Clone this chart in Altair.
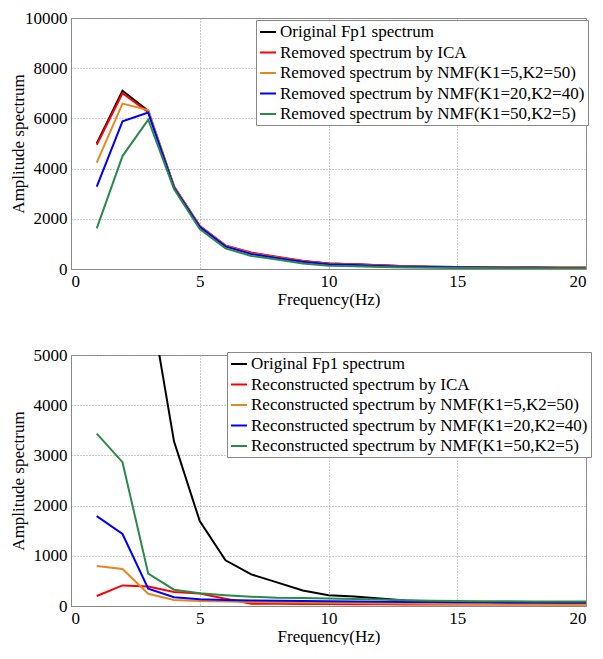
import altair as alt
import pandas as pd

freq = list(range(1, 21))

top_labels = [
    "Original Fp1 spectrum",
    "Removed spectrum by ICA",
    "Removed spectrum by NMF(K1=5,K2=50)",
    "Removed spectrum by NMF(K1=20,K2=40)",
    "Removed spectrum by NMF(K1=50,K2=5)",
]
bottom_labels = [
    "Original Fp1 spectrum",
    "Reconstructed spectrum by ICA",
    "Reconstructed spectrum by NMF(K1=5,K2=50)",
    "Reconstructed spectrum by NMF(K1=20,K2=40)",
    "Reconstructed spectrum by NMF(K1=50,K2=5)",
]

original = [5000, 7100, 6300, 3280, 1690, 910, 630, 470, 310, 215, 190, 150, 110, 90, 75, 65, 60, 55, 50, 50]

removed_ica = [4950, 7000, 6250, 3300, 1720, 940, 660, 490, 325, 220, 190, 150, 110, 90, 75, 65, 60, 55, 55, 60]
removed_nmf_5_50 = [4240, 6590, 6330, 3300, 1700, 920, 620, 460, 300, 200, 170, 130, 100, 80, 70, 60, 55, 50, 50, 45]
removed_nmf_20_40 = [3280, 5880, 6230, 3250, 1680, 900, 600, 440, 290, 190, 160, 120, 90, 75, 65, 55, 50, 45, 40, 40]
removed_nmf_50_5 = [1620, 4500, 5950, 3190, 1590, 820, 520, 380, 220, 130, 110, 80, 60, 50, 40, 35, 30, 30, 25, 25]

recon_ica = [200, 410, 390, 280, 250, 145, 45, 45, 40, 40, 35, 35, 30, 30, 30, 30, 30, 30, 30, 30]
recon_nmf_5_50 = [795, 737, 243, 120, 100, 90, 80, 75, 70, 65, 60, 55, 50, 45, 40, 40, 35, 35, 30, 30]
recon_nmf_20_40 = [1790, 1435, 345, 173, 135, 120, 110, 105, 100, 95, 90, 85, 80, 80, 75, 75, 70, 70, 70, 70]
recon_nmf_50_5 = [3435, 2865, 645, 325, 255, 215, 185, 165, 160, 150, 140, 130, 115, 105, 100, 95, 95, 90, 90, 90]

colors = ["#000000", "#FF0000", "#E5891E", "#0000FF", "#2A8A47"]

FONT = "Liberation Serif"
FS = 17
W = 515
H = 251


def make_df(series_list, labels):
    rows = []
    for i, (lab, vals) in enumerate(zip(labels, series_list)):
        for f, v in zip(freq, vals):
            rows.append({"freq": f, "amp": v, "series": lab, "k": i})
    return pd.DataFrame(rows)


def panel(df, labels, ymax, ystep, lx, ly):
    return alt.Chart(df).mark_line(strokeWidth=2, clip=True).encode(
        x=alt.X("freq:Q", scale=alt.Scale(domain=[0, 20], nice=False),
                axis=alt.Axis(values=[0, 5, 10, 15, 20], title="Frequency(Hz)", format="d",
                              labelFont=FONT, labelFontSize=FS, titleFont=FONT, titleFontSize=FS,
                              titlePadding=2)),
        y=alt.Y("amp:Q", scale=alt.Scale(domain=[0, ymax], nice=False),
                axis=alt.Axis(values=list(range(0, ymax + 1, ystep)), title="Amplitude spectrum",
                              format="d", labelFont=FONT, labelFontSize=FS, titleFont=FONT,
                              titleFontSize=FS, titleX=-44, titleY=H / 2)),
        color=alt.Color("series:N", sort=labels,
                        scale=alt.Scale(domain=labels, range=colors),
                        legend=alt.Legend(title=None, orient="none", legendX=lx, legendY=ly,
                                          strokeColor="#888888", fillColor="white", padding=3,
                                          symbolType="stroke", symbolSize=256, symbolStrokeWidth=2,
                                          labelFont=FONT, labelFontSize=FS, labelLimit=0,
                                          labelOffset=3, rowPadding=3.5)),
    ).properties(width=W, height=H)


top = panel(make_df([original, removed_ica, removed_nmf_5_50, removed_nmf_20_40, removed_nmf_50_5], top_labels),
            top_labels, 10000, 2000, 185, 2)
bottom = panel(make_df([original, recon_ica, recon_nmf_5_50, recon_nmf_20_40, recon_nmf_50_5], bottom_labels),
               bottom_labels, 5000, 1000, 156, -3)

chart = alt.vconcat(top, bottom, spacing=37).resolve_scale(color="independent").properties(
    padding={"left": 0, "top": 0, "right": 0, "bottom": 0}
).configure(font=FONT).configure_axis(
    labelColor="black", titleFontWeight="normal", titleColor="black",
    domainColor="#888888", ticks=False, labelPadding=4,
    gridColor="#999999", gridDash=[1, 2], gridWidth=1,
).configure_view(stroke="#888888")

chart.save("out.html", embed_options={"renderer": "svg", "actions": False})
